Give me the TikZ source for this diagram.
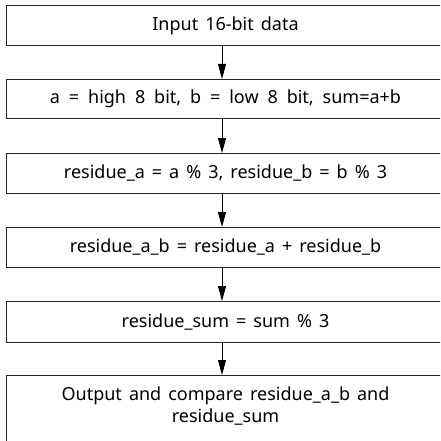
\documentclass[tikz,border=0pt]{standalone}
\usepackage{fontspec}
\setmainfont{Noto Sans}[WordSpace=1.5]
\usetikzlibrary{arrows.meta,calc,backgrounds}
\begin{document}
\begin{tikzpicture}[x=1pt,y=1pt,
  stepbox/.style={draw=black!85,fill=white,line width=1pt,minimum width=439pt,inner sep=0pt,anchor=north,font=\fontsize{18}{22}\selectfont,align=center},
  flow/.style={black,line width=1pt,-{Triangle[width=8pt,length=15pt]}}]
\useasboundingbox (0,0) rectangle (440,-441);
\clip (0,0) rectangle (440,-441);
\node[stepbox,minimum height=40pt] (b1) at (225.5,-5) {Input 16-bit data};
\node[stepbox,minimum height=39pt] (b2) at (225.5,-79) {\spaceskip=8.9pt\relax a = high 8 bit, b = low 8 bit, sum=a+b};
\node[stepbox,minimum height=40pt] (b3) at (225.5,-153) {residue\_a = a \% 3, residue\_b = b \% 3};
\node[stepbox,minimum height=40pt] (b4) at (225.5,-227) {residue\_a\_b = residue\_a + residue\_b};
\node[stepbox,minimum height=41pt] (b5) at (225.5,-301) {residue\_sum = sum \% 3};
\node[stepbox,minimum height=80pt] (b6) at (225.5,-375) {Output and compare residue\_a\_b and\\residue\_sum\\\mbox{}};
\begin{scope}[on background layer]
\draw[flow] ($(b1.south)+(-3.5,0)$) -- ($(b2.north)+(-3.5,0)$);
\draw[flow] ($(b2.south)+(-3.5,0)$) -- ($(b3.north)+(-3.5,0)$);
\draw[flow] ($(b3.south)+(-3.5,0)$) -- ($(b4.north)+(-3.5,0)$);
\draw[flow] ($(b4.south)+(-3.5,0)$) -- ($(b5.north)+(-3.5,0)$);
\draw[flow] ($(b5.south)+(-3.5,0)$) -- ($(b6.north)+(-3.5,0)$);
\end{scope}
\end{tikzpicture}
\end{document}
